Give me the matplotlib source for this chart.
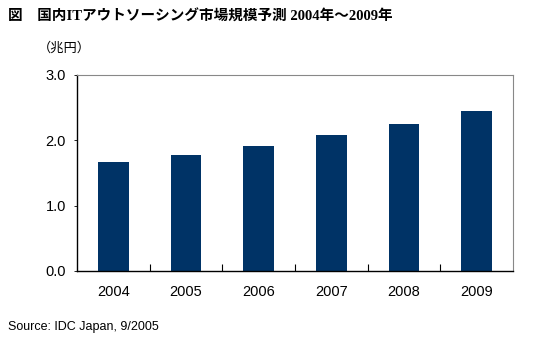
import matplotlib.pyplot as plt

# 市場規模予測（兆円）
years = ['2004', '2005', '2006', '2007', '2008', '2009']
values = [1.67, 1.77, 1.91, 2.08, 2.25, 2.45]
y_ticks = [0.0, 1.0, 2.0, 3.0]

plt.rcParams['font.family'] = ['Liberation Sans', 'Noto Sans CJK JP']

W, H = 536, 342
fig = plt.figure(figsize=(W / 100, H / 100), dpi=100)
ax = fig.add_axes([77 / W, 1 - 271 / H, (513 - 77) / W, (271 - 75) / H])

x = range(len(years))
ax.bar(x, values, width=0.42, color='#003366', edgecolor='none', zorder=2)

ax.set_xlim(-0.5, len(years) - 0.5)
ax.set_ylim(0, 3.0)
ax.set_yticks(y_ticks)
ax.set_yticklabels([f'{v:.1f}' for v in y_ticks], fontsize=10.5)
ax.set_xticks(list(x))
ax.set_xticklabels(years, fontsize=10.5)
ax.tick_params(axis='x', length=0, pad=10)
ax.tick_params(axis='y', length=2, width=0.6, pad=6)

# 区切りの目盛り（カテゴリ間、上向き）
ax.set_xticks([i + 0.5 for i in range(len(years) - 1)], minor=True)
ax.tick_params(axis='x', which='minor', direction='in', length=5, width=0.8, color='black')

for side in ['left', 'bottom']:
    ax.spines[side].set_color('black')
    ax.spines[side].set_linewidth(1.0)
for side in ['top', 'right']:
    ax.spines[side].set_color('#888888')
    ax.spines[side].set_linewidth(0.8)

fig.text(8 / W, 1 - 17 / H, '図　国内ITアウトソーシング市場規模予測 2004年～2009年',
         family=['Liberation Serif', 'Noto Sans CJK JP'], fontsize=10.5,
         fontweight='bold', va='center')
fig.text(38 / W, 1 - 48 / H, '（兆円）', family=['Noto Sans CJK JP'],
         fontsize=9.5, va='center')
fig.text(8 / W, 1 - 327 / H, 'Source: IDC Japan, 9/2005', fontsize=9, va='center')

fig.savefig('out.png', dpi=100)
